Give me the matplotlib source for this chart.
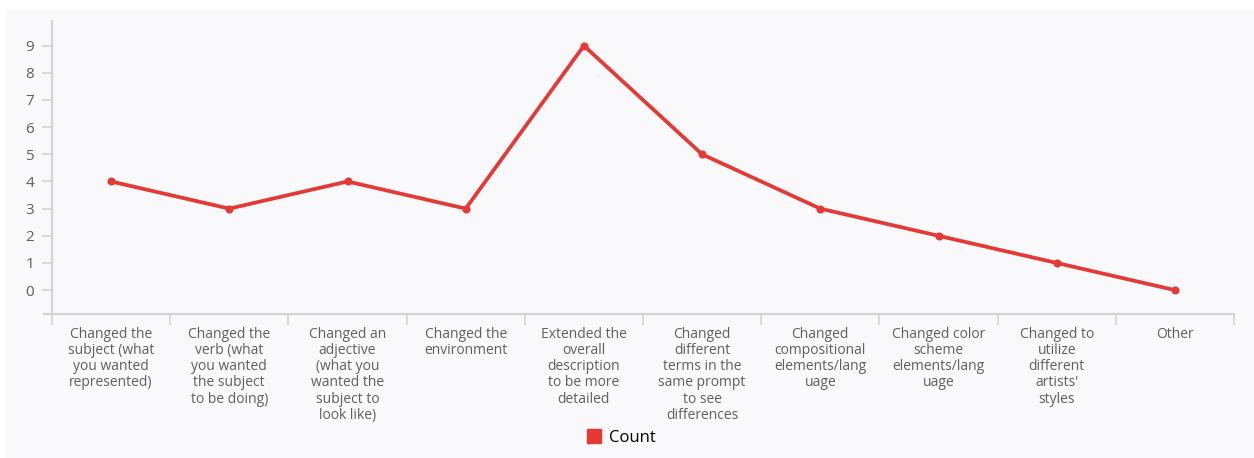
import matplotlib.pyplot as plt
from matplotlib.patches import Rectangle
from matplotlib.lines import Line2D

categories = [
    "Changed the\nsubject (what\nyou wanted\nrepresented)",
    "Changed the\nverb (what\nyou wanted\nthe subject\nto be doing)",
    "Changed an\nadjective\n(what you\nwanted the\nsubject to\nlook like)",
    "Changed the\nenvironment",
    "Extended the\noverall\ndescription\nto be more\ndetailed",
    "Changed\ndifferent\nterms in the\nsame prompt\nto see\ndifferences",
    "Changed\ncompositional\nelements/lang\nuage",
    "Changed color\nscheme\nelements/lang\nuage",
    "Changed to\nutilize\ndifferent\nartists'\nstyles",
    "Other",
]
counts = [4, 3, 4, 3, 9, 5, 3, 2, 1, 0]

red = "#e53935"
axis_grey = "#d3d3d3"
text_grey = "#5f5f5f"
bg = "#f9f9fb"

plt.rcParams["font.family"] = ["Open Sans", "DejaVu Sans"]

fig = plt.figure(figsize=(12.54, 4.58), dpi=100)
fig.add_artist(Rectangle((6 / 1254, 0), 1, 1 - 10 / 458, transform=fig.transFigure,
                         facecolor=bg, edgecolor="none", zorder=-10))
ax = fig.add_axes([52 / 1254, 1 - 314 / 458, (1234 - 52) / 1254, (314 - 20.7) / 458])
ax.set_zorder(1)
ax.set_facecolor("none")

x = list(range(len(counts)))
ax.plot(x, counts, color=red, lw=2.7, marker="o", ms=4.8, solid_joinstyle="round", zorder=3)

ax.set_xlim(-0.5, len(counts) - 0.5)
ax.set_ylim(-0.88, 9.92)
ax.set_yticks(range(10))
ax.set_xticks(x)
ax.set_xticklabels(categories, fontsize=10, color=text_grey, linespacing=1.12, va="top")
ax.set_xticks([i - 0.5 for i in range(len(counts) + 1)], minor=True)
ax.tick_params(axis="x", which="major", length=0, pad=9)
ax.tick_params(axis="x", which="minor", length=8, width=1.2, color=axis_grey, direction="out")
ax.tick_params(axis="y", length=7, width=1.2, color=axis_grey, labelsize=11, labelcolor=text_grey, pad=6)

for s in ["top", "right"]:
    ax.spines[s].set_visible(False)
for s in ["left", "bottom"]:
    ax.spines[s].set_color(axis_grey)
    ax.spines[s].set_linewidth(1.5)
ax.spines["bottom"].set_bounds(-0.57, len(counts) - 0.5)

handle = Line2D([], [], color=red, marker="s", ls="none", ms=10)
fig.legend([handle], ["Count"], loc="center", bbox_to_anchor=(621 / 1254, 1 - 438 / 458),
           frameon=False, fontsize=12, handletextpad=0.4, handlelength=1.0)

fig.savefig("out.png", dpi=100)
